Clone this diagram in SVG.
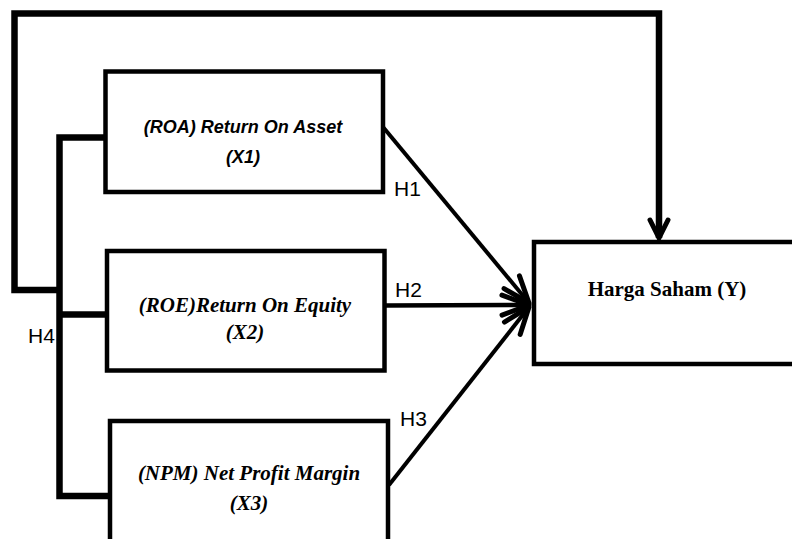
<svg xmlns="http://www.w3.org/2000/svg" width="792" height="539" viewBox="0 0 792 539">
  <defs>
    <style>
      .box { fill: #fff; stroke: #000; stroke-width: 4.5; }
      .conn { fill: none; stroke: #000; stroke-linejoin: miter; }
      .lbl { font-family: "Liberation Sans", Arial, sans-serif; font-size: 21px; fill: #000; }
      .sansbi { font-family: "Liberation Sans", Arial, sans-serif; font-weight: bold; font-style: italic; font-size: 18px; fill: #000; text-anchor: middle; }
      .serifbi { font-family: "Liberation Serif", "Times New Roman", serif; font-weight: bold; font-style: italic; font-size: 21px; fill: #000; text-anchor: middle; }
      .serifb { font-family: "Liberation Serif", "Times New Roman", serif; font-weight: bold; font-size: 21px; fill: #000; text-anchor: middle; }
    </style>
    <marker id="bigArrow" markerUnits="userSpaceOnUse" viewBox="-32 -14 36 28" refX="0" refY="0" markerWidth="36" markerHeight="28" orient="auto" overflow="visible">
      <path d="M-27,-10 L0,0 L-27,10" fill="none" stroke="#000" stroke-width="5" stroke-linecap="round" stroke-linejoin="round"/>
    </marker>
    <marker id="smallArrow" markerUnits="userSpaceOnUse" viewBox="-22 -12 26 24" refX="0" refY="0" markerWidth="26" markerHeight="24" orient="auto" overflow="visible">
      <path d="M-18,-9 L0,0 L-18,9" fill="none" stroke="#000" stroke-width="5" stroke-linecap="round" stroke-linejoin="miter"/>
    </marker>
  </defs>
  <rect width="792" height="539" fill="#fff"/>

  <g id="connectors">
    <polyline class="conn" stroke-width="6.5" points="60,290 14.5,290 14.5,13.5 659,13.5 659,238" marker-end="url(#smallArrow)"/>
    <polyline class="conn" stroke-width="6.5" points="105,137.5 59.5,137.5 59.5,496 110,496"/>
    <line class="conn" stroke-width="6.5" x1="59.5" y1="314.5" x2="107" y2="314.5"/>
    <line class="conn" stroke-width="4" x1="383" y1="127" x2="529" y2="303" marker-end="url(#bigArrow)"/>
    <line class="conn" stroke-width="4.5" x1="385" y1="305.5" x2="529" y2="305" marker-end="url(#bigArrow)"/>
    <line class="conn" stroke-width="4" x1="389" y1="485" x2="529" y2="307" marker-end="url(#bigArrow)"/>
  </g>

  <g id="node-x1">
    <rect class="box" x="105.5" y="71.5" width="277.5" height="120.5"/>
    <text class="sansbi" x="243" y="133">(ROA) Return On Asset</text>
    <text class="sansbi" x="243" y="163">(X1)</text>
  </g>

  <g id="node-x2">
    <rect class="box" x="107" y="251" width="277.5" height="119.5"/>
    <text class="serifbi" x="245" y="312">(ROE)Return On Equity</text>
    <text class="serifbi" x="245" y="339">(X2)</text>
  </g>

  <g id="node-x3">
    <rect class="box" x="110" y="421" width="278" height="130"/>
    <text class="serifbi" x="249" y="480">(NPM) Net Profit Margin</text>
    <text class="serifbi" x="249" y="510">(X3)</text>
  </g>

  <g id="node-y">
    <rect class="box" x="534" y="242" width="270" height="122"/>
    <text class="serifb" x="667" y="296">Harga Saham (Y)</text>
  </g>

  <g id="labels">
    <text class="lbl" x="394" y="196">H1</text>
    <text class="lbl" x="395" y="297">H2</text>
    <text class="lbl" x="400" y="426">H3</text>
    <text class="lbl" x="28" y="343">H4</text>
  </g>
</svg>
